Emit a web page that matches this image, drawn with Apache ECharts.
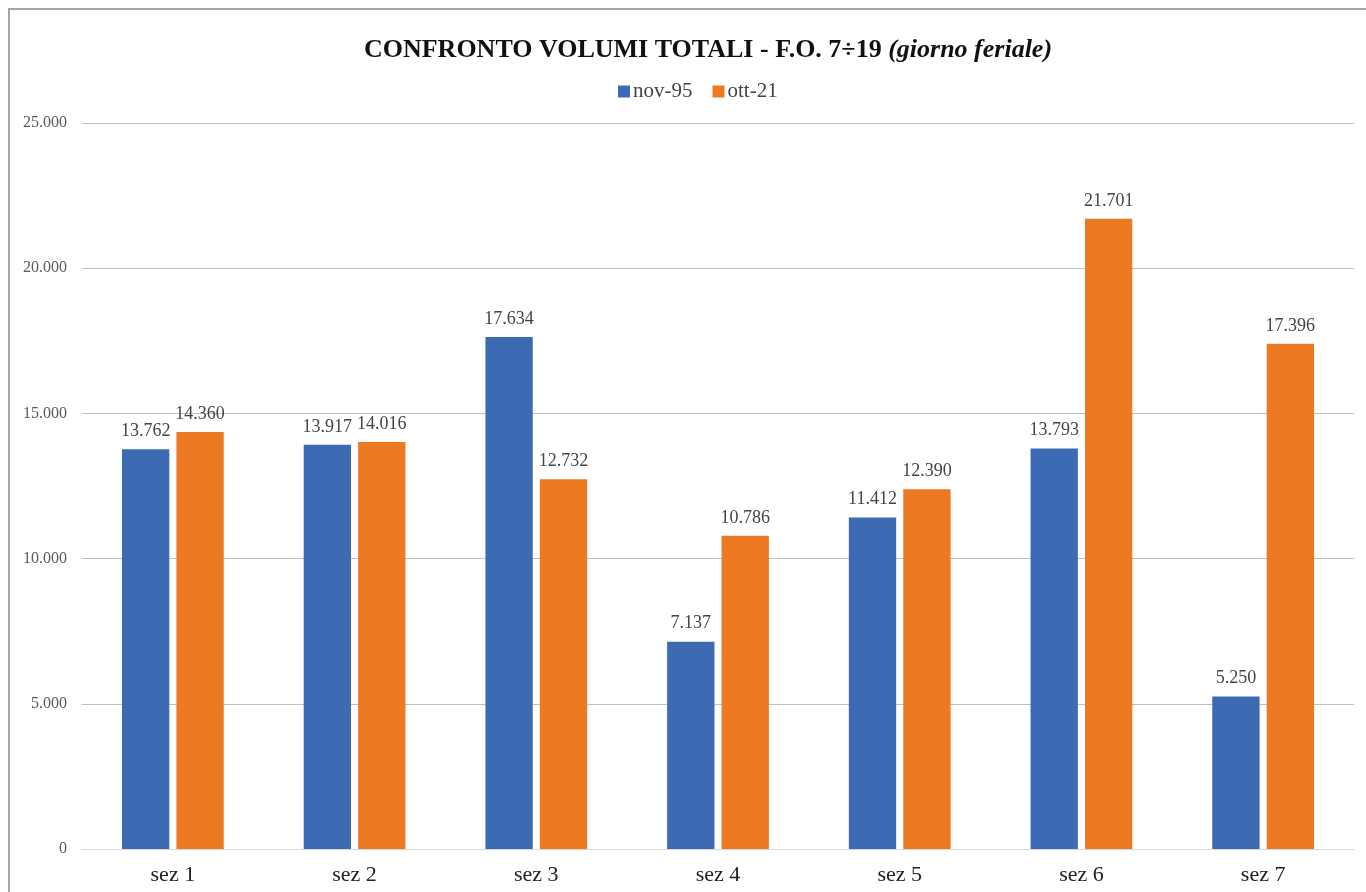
<!DOCTYPE html>
<html><head><meta charset="utf-8">
<script src="https://cdn.jsdelivr.net/npm/echarts@6/dist/echarts.min.js"></script>
<style>html,body{margin:0;padding:0;background:#fff}#c{width:1366px;height:892px}</style>
</head><body><div id="c"></div>
<script>
const categories = ['sez 1','sez 2','sez 3','sez 4','sez 5','sez 6','sez 7'];
const nov95 = [13762, 13917, 17634, 7137, 11412, 13793, 5250];
const ott21 = [14360, 14016, 12732, 10786, 12390, 21701, 17396];
const seriesNames = ['nov-95','ott-21'];
const fmt = v => String(v).replace(/\B(?=(\d{3})+(?!\d))/g, '.');
const font = '"Liberation Serif", "Times New Roman", serif';
const chart = echarts.init(document.getElementById('c'));
chart.setOption({
  animation:false,
  textStyle:{fontFamily:font},
  graphic:[
    {type:'rect', shape:{x:9,y:9,width:1400,height:900}, style:{fill:'none',stroke:'#a6a6a6',lineWidth:2}, z:-1},
    {type:'text', x:708, y:50, style:{
      text:'{b|CONFRONTO VOLUMI TOTALI - F.O. 7÷19 }{i|(giorno feriale)}',
      align:'center', verticalAlign:'middle',
      rich:{b:{fontFamily:font,fontWeight:'bold',fontSize:26,fill:'#111'},
            i:{fontFamily:font,fontWeight:'bold',fontStyle:'italic',fontSize:26,fill:'#111'}}
    }}
  ],
  legend:{data:seriesNames, left:613, top:76, itemWidth:12, itemHeight:12, itemGap:20, icon:'rect',
    textStyle:{fontFamily:font,fontSize:21,color:'#444',padding:[0,0,0,-2]}},
  grid:{left:82, right:12, top:123, bottom:43, containLabel:false},
  xAxis:{type:'category', data:categories,
    axisLine:{lineStyle:{color:'#d9d9d9',width:1}}, axisTick:{show:false},
    axisLabel:{fontFamily:font,fontSize:22,color:'#222',margin:15}},
  yAxis:{type:'value', min:0, max:25000, interval:5000,
    axisLine:{show:false}, axisTick:{show:false},
    splitLine:{lineStyle:{color:'#bfbfbf',width:1}},
    axisLabel:{fontFamily:font,fontSize:16,color:'#595959',margin:15,formatter:fmt}},
  series:[
    {name:seriesNames[0], type:'bar', data:nov95, barGap:'15%', barCategoryGap:'44%',
     itemStyle:{color:'#3d6bb3'},
     label:{show:true,position:'top',distance:9,fontFamily:font,fontSize:18,color:'#444',formatter:p=>fmt(p.value)}},
    {name:seriesNames[1], type:'bar', data:ott21,
     itemStyle:{color:'#ec7a23'},
     label:{show:true,position:'top',distance:9,fontFamily:font,fontSize:18,color:'#444',formatter:p=>fmt(p.value)}}
  ]
});
</script></body></html>
